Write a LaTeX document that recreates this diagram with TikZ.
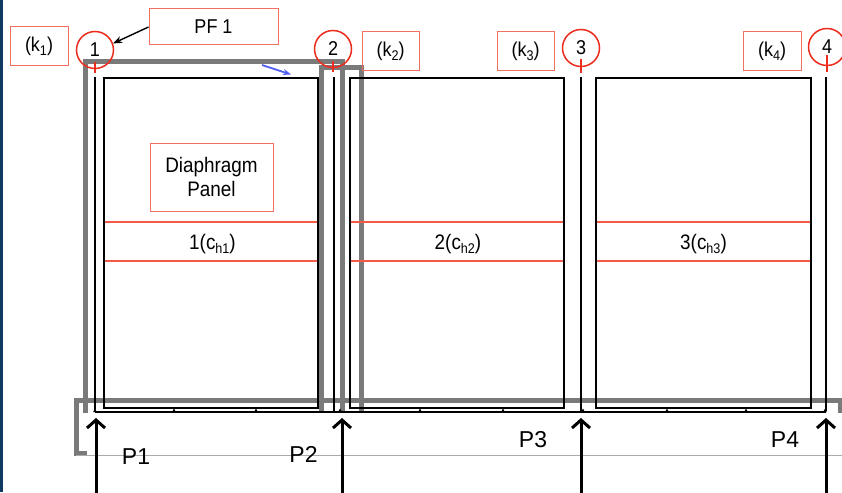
\documentclass[tikz,border=0pt]{standalone}
\usepackage{fontspec}
\setmainfont{Liberation Sans}
\newfontfamily\cond[FakeStretch=0.9]{Liberation Sans}
\usetikzlibrary{arrows.meta}
\definecolor{gridred}{RGB}{236,44,28}
\definecolor{boxred}{RGB}{242,112,96}
\definecolor{linered}{RGB}{244,90,70}
\definecolor{pfgray}{RGB}{122,122,122}
\definecolor{thingray}{RGB}{170,170,170}
\definecolor{bluearr}{RGB}{80,95,240}
\definecolor{edgeblue}{RGB}{14,58,95}
\newcommand\lowsub[1]{\raisebox{-0.35ex}{\fontsize{14}{14}\selectfont #1}}
\begin{document}
\begin{tikzpicture}[x=1pt,y=-1pt,
  redbox/.style={draw=boxred, line width=1pt, inner sep=0pt, align=center,
    font=\cond\fontsize{20}{23}\selectfont},
  gridcirc/.style={circle, draw=gridred, line width=1.5pt, minimum size=37pt,
    inner sep=0pt, font=\cond\fontsize{20}{20}\selectfont},
  chlabel/.style={inner sep=1pt, font=\cond\fontsize{21}{22}\selectfont},
  plabel/.style={inner sep=0pt, font=\fontsize{23}{24}\selectfont},
  pfbar/.style={draw=pfgray, line width=5pt},
  panelline/.style={draw=black, line width=1.5pt},
  colline/.style={draw=black, line width=1.3pt},
  redline/.style={draw=linered, line width=1.3pt},
  tick/.style={draw=gridred, line width=1.5pt},
  uparrow/.style={draw=black, line width=3pt, -{Straight Barb[length=8pt,width=18pt]}},
]
\useasboundingbox (0,0) rectangle (842,492);
\fill[white] (0,0) rectangle (842,492);
\fill[edgeblue] (0,0) rectangle (2.5,492);

% gray PF outlines
\draw[pfbar] (85.5,413) -- (85.5,62) -- (342,62) -- (342,413);
\draw[pfbar] (321,413) -- (321,68) -- (361,68) -- (361,413);
\draw[pfbar] (840,413) -- (840,400) -- (76,400) -- (76,453.5) -- (87,453.5);
\draw[draw=thingray, line width=1.3pt] (76,455.5) -- (842,455.5);

% column lines
\foreach \x in {95,334,581,826}
  \draw[colline] (\x,77) -- (\x,411);

% panels
\draw[panelline] (104,78) rectangle (318,408);
\draw[panelline] (350,78) rectangle (564,408);
\draw[panelline] (596,78) rectangle (811,408);

% chord lines
\foreach \a/\b in {105/317,351/563,597/810}{
  \draw[redline] (\a,222) -- (\b,222);
  \draw[redline] (\a,261) -- (\b,261);
}

% beam line with small ticks
\draw[black, line width=1.5pt] (95,412) -- (826,412);
\foreach \x in {95,174,256,340,420,503,583,667,746,825}
  \fill[black] (\x-1.8,412) -- (\x,408.5) -- (\x+1.8,412) -- cycle;

% chord labels
\node[chlabel] (ch1) at (212.5,244) {1(c\lowsub{h1})};
\node[chlabel] (ch2) at (458,244) {2(c\lowsub{h2})};
\node[chlabel] (ch3) at (703.5,244) {3(c\lowsub{h3})};

% boxes
\node[redbox, minimum width=123pt, minimum height=68pt, font=\cond\fontsize{21}{24}\selectfont] (dp) at (211.5,177) {Diaphragm\\Panel};
\node[redbox, minimum width=129pt, minimum height=36pt] (pf) at (213.5,27) {PF 1};
\node[redbox, minimum width=58pt, minimum height=39pt] (k1) at (39,46.5) {(k\lowsub{1})};
\node[redbox, minimum width=57pt, minimum height=39pt] (k2) at (390.5,51.5) {(k\lowsub{2})};
\node[redbox, minimum width=57pt, minimum height=39pt] (k3) at (525.5,51.5) {(k\lowsub{3})};
\node[redbox, minimum width=58pt, minimum height=39pt] (k4) at (772,51.5) {(k\lowsub{4})};

% grid circles
\node[gridcirc] (c1) at (95,50) {1};
\node[gridcirc] (c2) at (333,49) {2};
\node[gridcirc] (c3) at (581,48) {3};
\node[gridcirc] (c4) at (827,47) {4};
\draw[tick] (95,62) -- (95,73);
\draw[tick] (333,61) -- (333,72);
\draw[tick] (581,59) -- (581,73);
\draw[tick] (827,55) -- (827,72);

% PF1 pointer
\draw[black, line width=1.4pt, -{Stealth[length=9pt,width=7pt]}] (pf.west) -- (c1.20);

% blue arrow
\coordinate (b1) at (262,65);
\coordinate (b2) at (291,74.5);
\draw[bluearr, line width=1.8pt, -{Stealth[length=8pt,width=6pt]}] (b1) -- (b2);

% reaction arrows
\foreach \n/\x in {1/96,2/342,3/581,4/826}{
  \coordinate (s\n) at (\x,500);
  \coordinate (t\n) at (\x,418);
  \draw[uparrow] (s\n) -- (t\n);
}

% P labels
\node[plabel] (P1) at (136,457) {P1};
\node[plabel] (P2) at (303.5,454) {P2};
\node[plabel] (P3) at (533,440) {P3};
\node[plabel] (P4) at (785,440) {P4};
\end{tikzpicture}
\end{document}
